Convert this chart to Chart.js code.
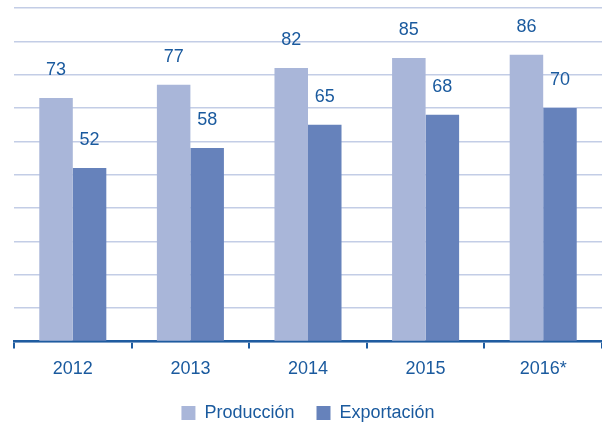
<!DOCTYPE html>
<html>
<head>
<meta charset="utf-8">
<script src="https://cdn.jsdelivr.net/npm/chart.js@4.4.1/dist/chart.umd.min.js"></script>
<style>
html,body{margin:0;padding:0;background:#fff;}
#wrap{width:602px;height:423px;position:relative;}
</style>
</head>
<body>
<div id="wrap"><canvas id="c" width="602" height="423"></canvas></div>
<script>
const categories = ['2012', '2013', '2014', '2015', '2016*'];
const produccion = [73, 77, 82, 85, 86];
const exportacion = [52, 58, 65, 68, 70];
const seriesNames = ['Producción', 'Exportación'];

const TEXT = '#1a5a9e';
const FONT = '"Liberation Sans", Arial, sans-serif';

const labelPlugin = {
  id: 'valLabels',
  afterDatasetsDraw(chart) {
    const ctx = chart.ctx;
    ctx.save();
    ctx.font = '18px ' + FONT;
    ctx.fillStyle = TEXT;
    ctx.textAlign = 'center';
    ctx.textBaseline = 'middle';
    chart.data.datasets.forEach((ds, i) => {
      const meta = chart.getDatasetMeta(i);
      meta.data.forEach((el, j) => {
        ctx.fillText(String(ds.data[j]), el.x, el.y - 28);
      });
    });
    ctx.restore();
  }
};

new Chart(document.getElementById('c'), {
  type: 'bar',
  data: {
    labels: categories,
    datasets: [
      { label: seriesNames[0], data: produccion, backgroundColor: '#a9b6d9', barPercentage: 1, categoryPercentage: 0.57 },
      { label: seriesNames[1], data: exportacion, backgroundColor: '#6682bb', barPercentage: 1, categoryPercentage: 0.57 }
    ]
  },
  options: {
    responsive: false,
    animation: false,
    devicePixelRatio: 1,
    layout: { padding: { left: 14, top: 8, right: 0, bottom: -9 } },
    plugins: {
      tooltip: { enabled: false },
      legend: {
        position: 'bottom',
        labels: {
          boxWidth: 14, boxHeight: 14, padding: 22,
          color: TEXT,
          font: { family: FONT, size: 18 }
        }
      }
    },
    scales: {
      x: {
        afterFit(scale) { scale.height -= 8; },
        grid: { display: true, drawOnChartArea: false, drawTicks: true, tickLength: 7, color: '#1f5ca0', lineWidth: 2, offset: true },
        border: { display: true, color: '#1f5ca0', width: 2.5 },
        ticks: { color: TEXT, font: { family: FONT, size: 18 }, padding: 10 }
      },
      y: {
        min: 0, max: 100,
        ticks: { display: false, stepSize: 10 },
        grid: { color: '#c3cde6', lineWidth: 1.5, drawTicks: false },
        border: { display: false }
      }
    }
  },
  plugins: [labelPlugin]
});
</script>
</body>
</html>
